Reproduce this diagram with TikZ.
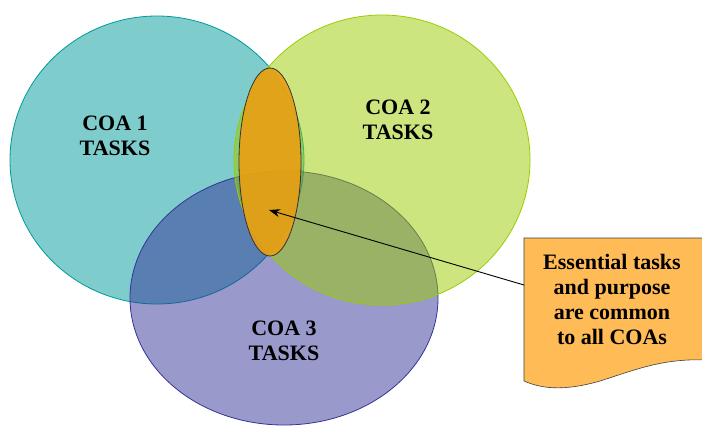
\documentclass[tikz,border=0pt]{standalone}
\usepackage{fontspec}
\setmainfont{Liberation Serif}
\usepackage{tikz}
\usetikzlibrary{positioning, arrows.meta}

\definecolor{coateal}{HTML}{009999}
\definecolor{coagreen}{HTML}{99CC00}
\definecolor{coablue}{HTML}{333399}
\definecolor{coreorange}{HTML}{EA9F12}
\definecolor{notefill}{HTML}{FFBB55}

\tikzset{
  coaset/.style={line width=0.8pt, fill opacity=0.5},
  coalabel/.style={font=\fontsize{22}{25}\selectfont\bfseries, align=center},
}

\begin{document}
\begin{tikzpicture}[x=1pt, y=-1pt, >=Stealth]

\useasboundingbox (0, 0) rectangle (702, 426);

% --- COA sets ---
\draw[coaset, draw=coateal, fill=coateal]
  (157, 160) ellipse [x radius=147, y radius=144];
\draw[coaset, draw=coablue, fill=coablue]
  (284, 298) ellipse [x radius=154, y radius=127];
\draw[coaset, draw=coagreen, fill=coagreen]
  (382, 160) ellipse [x radius=148, y radius=145];

% --- Common core ---
\draw[line width=0.8pt, draw=black!80, fill=coreorange, fill opacity=0.9]
  (270, 162) ellipse [x radius=31, y radius=94];
\coordinate (core) at (269, 210);

% --- Set labels ---
\node[coalabel] (coa1) at (115, 136) {COA 1\\TASKS};
\node[coalabel] (coa2) at (398, 120) {COA 2\\TASKS};
\node[coalabel] (coa3) at (284, 341) {COA 3\\TASKS};

% --- Note with wavy bottom ---
\draw[line width=0.6pt, draw=black!75, fill=notefill]
  (706, 238) -- (524, 238) -- (524, 381)
  .. controls (540, 388) and (562, 392) .. (600, 381)
  .. controls (632, 371) and (662, 358) .. (706, 360) -- cycle;
\node[coalabel] (note) at (612, 299)
  {Essential tasks\\and purpose\\are common\\to all COAs};
\coordinate (noteedge) at (524, 285);

% --- Pointer ---
\draw[-{Stealth[length=11pt, width=8pt]}, line width=0.9pt] (noteedge) -- (core);

\end{tikzpicture}
\end{document}
